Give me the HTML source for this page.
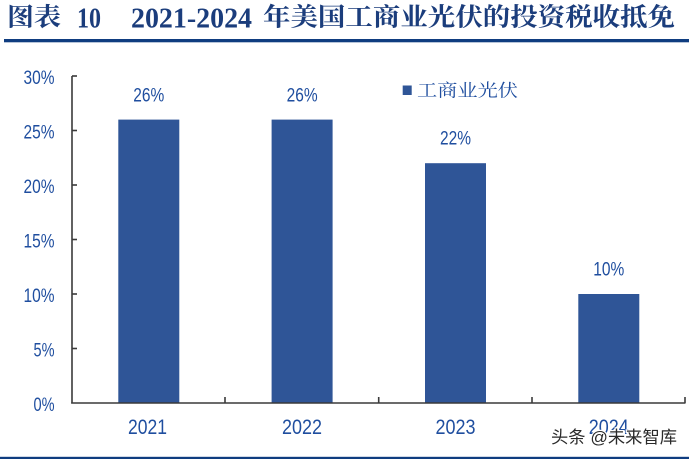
<!DOCTYPE html>
<html><head><meta charset="utf-8"><style>
html,body{margin:0;padding:0;background:#fff;}
svg{display:block;}
</style></head><body>
<svg width="689" height="459" viewBox="0 0 689 459" xmlns="http://www.w3.org/2000/svg">
<rect width="689" height="459" fill="#fff"/>
<!-- Title -->
<g fill="#1B3D7C" font-weight="bold">
<text x="7" y="25.5" font-family="'Liberation Serif','Noto Serif CJK SC',serif" font-size="25" textLength="54" lengthAdjust="spacingAndGlyphs">图表</text>
<text x="77" y="27.3" font-family="'Liberation Serif',serif" font-size="29" textLength="24" lengthAdjust="spacingAndGlyphs">10</text>
<text x="131" y="27.3" font-family="'Liberation Serif',serif" font-size="29" textLength="121" lengthAdjust="spacingAndGlyphs">2021-2024</text>
<text x="263" y="25.5" font-family="'Liberation Serif','Noto Serif CJK SC',serif" font-size="25" textLength="412" lengthAdjust="spacingAndGlyphs">年美国工商业光伏的投资税收抵免</text>
</g>
<rect x="4" y="39" width="685" height="3.3" fill="#0F3D80"/>
<!-- Bars -->
<g fill="#2F5597">
<rect x="118.3" y="119.6" width="61" height="283.4"/>
<rect x="271.6" y="119.6" width="61" height="283.4"/>
<rect x="425" y="163.2" width="61" height="239.8"/>
<rect x="578.3" y="294" width="61" height="109"/>
</g>
<!-- Axes -->
<g stroke="#3A3A3A" stroke-width="1.6" fill="none">
<line x1="72" y1="76" x2="72" y2="403.5"/>
<line x1="71.2" y1="403" x2="685.5" y2="403"/>
<line x1="72" y1="76" x2="77" y2="76"/>
<line x1="72" y1="130.5" x2="77" y2="130.5"/>
<line x1="72" y1="185" x2="77" y2="185"/>
<line x1="72" y1="239.5" x2="77" y2="239.5"/>
<line x1="72" y1="294" x2="77" y2="294"/>
<line x1="72" y1="348.5" x2="77" y2="348.5"/>
<line x1="225" y1="397" x2="225" y2="403"/>
<line x1="378.7" y1="397" x2="378.7" y2="403"/>
<line x1="532" y1="397" x2="532" y2="403"/>
<line x1="685" y1="397" x2="685" y2="403"/>
</g>
<!-- Y labels -->
<g fill="#1F4E9F" font-family="'Liberation Sans',Arial,sans-serif" font-size="19" text-anchor="end">
<text x="54.5" y="84" textLength="31" lengthAdjust="spacingAndGlyphs">30%</text>
<text x="54.5" y="138.5" textLength="31" lengthAdjust="spacingAndGlyphs">25%</text>
<text x="54.5" y="193" textLength="31" lengthAdjust="spacingAndGlyphs">20%</text>
<text x="54.5" y="247.5" textLength="31" lengthAdjust="spacingAndGlyphs">15%</text>
<text x="54.5" y="302" textLength="31" lengthAdjust="spacingAndGlyphs">10%</text>
<text x="54.5" y="356.5" textLength="21" lengthAdjust="spacingAndGlyphs">5%</text>
<text x="54.5" y="410.8" textLength="21" lengthAdjust="spacingAndGlyphs">0%</text>
</g>
<!-- Data labels -->
<g fill="#1F4E9F" font-family="'Liberation Sans',Arial,sans-serif" font-size="19" text-anchor="middle">
<text x="148.8" y="101.5" textLength="31" lengthAdjust="spacingAndGlyphs">26%</text>
<text x="302.1" y="101.5" textLength="31" lengthAdjust="spacingAndGlyphs">26%</text>
<text x="455.5" y="144.5" textLength="31" lengthAdjust="spacingAndGlyphs">22%</text>
<text x="608.8" y="275.7" textLength="31" lengthAdjust="spacingAndGlyphs">10%</text>
</g>
<!-- X labels -->
<g fill="#1F4E9F" font-family="'Liberation Sans',Arial,sans-serif" font-size="21.5" text-anchor="middle">
<text x="147.5" y="434" textLength="39" lengthAdjust="spacingAndGlyphs">2021</text>
<text x="302" y="434" textLength="40" lengthAdjust="spacingAndGlyphs">2022</text>
<text x="455.5" y="434" textLength="40" lengthAdjust="spacingAndGlyphs">2023</text>
<text x="608.8" y="434" textLength="40" lengthAdjust="spacingAndGlyphs">2024</text>
</g>
<!-- Legend -->
<rect x="402.7" y="85.5" width="9" height="9.5" fill="#2F5597"/>
<text x="417" y="96.5" fill="#1F4E9F" font-family="'Liberation Serif','Noto Serif CJK SC',serif" font-size="17.5" textLength="101" lengthAdjust="spacingAndGlyphs">工商业光伏</text>
<!-- Watermark -->
<text x="551" y="443" fill="#2a2a2a" stroke="#ffffff" stroke-width="2.5" paint-order="stroke" font-family="'Liberation Sans','Noto Sans CJK SC',sans-serif" font-size="17" textLength="126" lengthAdjust="spacingAndGlyphs">头条 @未来智库</text>
<!-- Bottom line -->
<rect x="0" y="456.8" width="689" height="2.2" fill="#0F3D80"/>
</svg>
</body></html>
